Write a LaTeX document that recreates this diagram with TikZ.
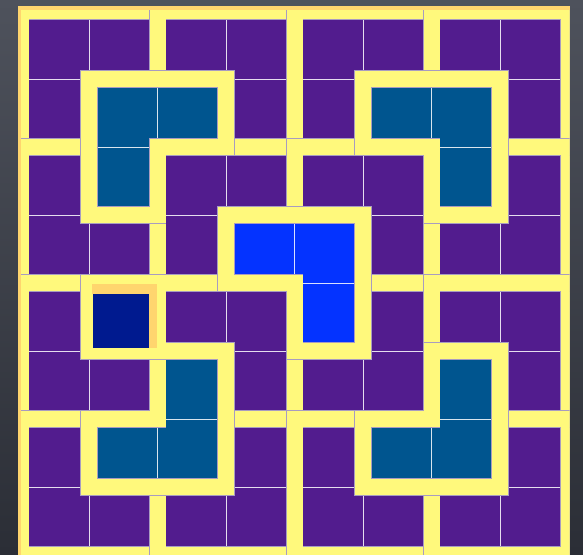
\documentclass[tikz,border=0pt]{standalone}
\definecolor{bgtop}{HTML}{4E525C}
\definecolor{bgbot}{HTML}{2B2E36}
\definecolor{tileyellow}{HTML}{FFF97C}
\definecolor{tileorange}{HTML}{FFD56E}
\definecolor{cellpurple}{HTML}{521C8E}
\definecolor{cellteal}{HTML}{00558F}
\definecolor{cellblue}{HTML}{0433FF}
\definecolor{cellnavy}{HTML}{001A8F}
\definecolor{celledge}{HTML}{A89CC0}
\tikzset{
  tileline/.style={draw=tileyellow, line width=16pt, line join=miter,
    preaction={draw=celledge, line width=17.2pt, line join=miter}},
  gridline/.style={draw=white, line width=0.8pt, opacity=0.85}
}
\newcommand{\trioBR}[2]{\draw[tileline] (#1,#2) -- ++(2,0) -- ++(0,1) -- ++(-1,0) -- ++(0,1) -- ++(-1,0) -- cycle;}
\newcommand{\trioBL}[2]{\draw[tileline] (#1,#2) -- ++(2,0) -- ++(0,2) -- ++(-1,0) -- ++(0,-1) -- ++(-1,0) -- cycle;}
\newcommand{\trioTR}[2]{\draw[tileline] (#1,#2) -- ++(1,0) -- ++(0,1) -- ++(1,0) -- ++(0,1) -- ++(-2,0) -- cycle;}
\newcommand{\trioTL}[2]{\draw[tileline] (#1+1,#2) -- ++(1,0) -- ++(0,2) -- ++(-2,0) -- ++(0,-1) -- ++(1,0) -- cycle;}
\begin{document}
\begin{tikzpicture}[x=1pt,y=-1pt]
\useasboundingbox (0,0) rectangle (583,554);
\shade[top color=bgtop, bottom color=bgbot] (0,0) rectangle (583,554);
% frame
\fill[tileorange] (17.5,6) rectangle (569.5,562);
\fill[tileyellow] (21,10.5) rectangle (569.5,562);
\begin{scope}
\clip (21,10.5) rectangle (569.5,562);
\begin{scope}[shift={(20.5pt,-11pt)}, x=68.5pt, y=-68pt]
  \fill[cellpurple] (0,0) rectangle (8,8);
  \foreach \c/\r in {1/1,2/1,1/2, 5/1,6/1,6/2, 2/5,1/6,2/6, 6/5,5/6,6/6}
    \fill[cellteal] (\c,\r) rectangle ++(1,1);
  \foreach \c/\r in {3/3,4/3,4/4}
    \fill[cellblue] (\c,\r) rectangle ++(1,1);
  \fill[cellnavy] (1,4) rectangle ++(1,1);
  \foreach \i in {1,...,7} {
    \draw[gridline] (\i,0) -- (\i,8);
    \draw[gridline] (0,\i) -- (8,\i);
  }
  % top-left quadrant
  \trioBR{0}{0} \trioBL{2}{0} \trioTR{0}{2} \trioBR{2}{2} \trioBR{1}{1}
  % top-right quadrant
  \trioBR{4}{0} \trioBL{6}{0} \trioBL{4}{2} \trioTL{6}{2} \trioBL{5}{1}
  % bottom-left quadrant
  \trioTR{0}{4} \trioBL{2}{4} \trioTR{0}{6} \trioTL{2}{6} \trioTL{1}{5}
  % bottom-right quadrant
  \trioTL{4}{4} \trioBL{6}{4} \trioTR{4}{6} \trioTL{6}{6} \trioTL{5}{5}
  % centre
  \trioBL{3}{3}
  % missing square
  \draw[tileline] (1,4) rectangle ++(1,1);
\end{scope}
\end{scope}
% highlight around the missing square
\fill[tileorange] (92,284) rectangle (157,294);
\fill[tileorange] (149,284) rectangle (157,347.5);
\fill[cellnavy] (93,294) rectangle (149,347.5);
\end{tikzpicture}
\end{document}
